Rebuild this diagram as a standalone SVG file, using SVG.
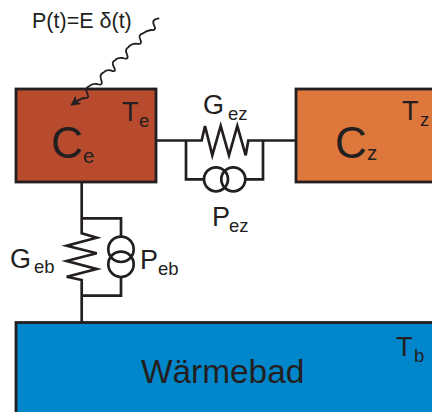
<svg xmlns="http://www.w3.org/2000/svg" width="432" height="412" viewBox="0 0 432 412">
<style>
text{font-family:"Liberation Sans",Arial,sans-serif;fill:#231f20}
.box{stroke:#231f20;stroke-width:2.8}
.w{fill:none;stroke:#231f20;stroke-width:2.7;stroke-linejoin:miter}
.m{font-size:27px}.s{font-size:18.500px}.b{font-size:44px}.c{font-size:20.500px}
</style>
<defs><marker id="ah" viewBox="0 0 10 10" refX="8" refY="5" markerWidth="10" markerHeight="10" markerUnits="userSpaceOnUse" orient="auto"><path d="M0 0L10 5L0 10L2.500 5Z" fill="#231f20"/></marker></defs>
<g id="node-ce"><rect class="box" x="16" y="89" width="140" height="93" fill="#b84b2e"/><text class="b" x="51" y="158">C</text><text class="c" x="83" y="163">e</text><text class="m" x="122" y="121">T</text><text class="s" x="139" y="127">e</text></g>
<g id="node-cz"><rect class="box" x="296" y="89" width="140" height="93" fill="#de773c"/><text class="b" x="335" y="158">C</text><text class="c" x="367" y="160">z</text><text class="m" x="402" y="120">T</text><text class="s" x="420" y="126">z</text></g>
<g id="node-bath"><rect class="box" x="16" y="322.500" width="420" height="100" fill="#0087cb"/><text x="141" y="383" font-size="33.400">Wärmebad</text><text class="m" x="396" y="356">T</text><text class="s" x="414" y="362">b</text></g>
<g id="connectors">
<path class="w" d="M157 140.500H201.700L205 126L212.300 155.300L220.700 126L229 155.300L237.300 126L245.700 155.300L248.300 140.500H295M186 140.500V179.300H204M263 140.500V179.300H245"/>
<circle class="w" cx="216" cy="179.300" r="12"/><circle class="w" cx="233.300" cy="179.300" r="12"/>
<path class="w" d="M81.700 183V233.300L96.700 237.700L66.700 245.700L96.700 253.300L66.700 261L96.700 269L66.700 276.700L81.700 280V322M81.700 218.300H121V237M121 277V295.700H81.700"/>
<circle class="w" cx="121" cy="249.300" r="12.700"/><circle class="w" cx="121" cy="264.300" r="12.700"/>
<path fill="none" stroke="#231f20" stroke-width="1.800" marker-end="url(#ah)" d="M159.300 18.300Q151 19 154 25Q157 31 151 30Q146.700 30.700 143 33.300Q137.800 34.500 140.300 39.700Q143 45 136 43.700Q130.700 44 128.300 47.300Q124.500 49.200 127 54.700Q129.500 60.300 122.700 58Q117.300 57.300 115 60.300Q111 61.800 114 67.300Q117 73 110.700 70.300Q106 69.300 103.300 72.700Q99 74.500 101.300 80.300Q103.500 86.200 97 84Q92 83.300 89 86.300Q84.500 87.800 87.300 93.300Q90.200 98.800 84 98Q80 98.700 72 104.500"/>
</g>
<g id="labels">
<text x="32" y="28" font-size="21.500">P(t)=E δ(t)</text>
<text class="m" x="203" y="114">G</text><text class="s" x="228" y="120">ez</text>
<text class="m" x="212" y="226">P</text><text class="s" x="229" y="232">ez</text>
<text class="m" x="10" y="268">G</text><text class="s" x="34" y="273">eb</text>
<text class="m" x="140" y="269">P</text><text class="s" x="158" y="275">eb</text>
</g>
</svg>
